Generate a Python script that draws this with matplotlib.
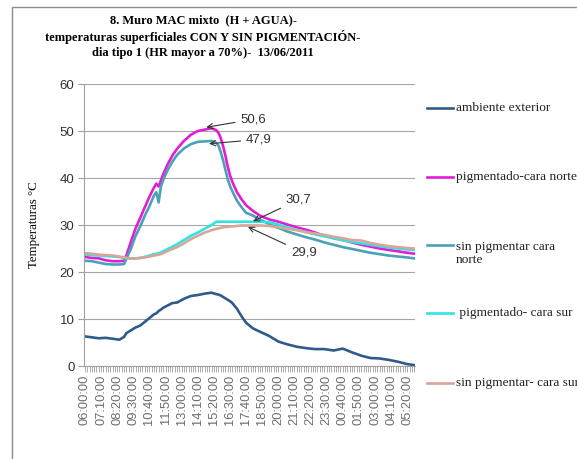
import numpy as np
import matplotlib.pyplot as plt
from matplotlib.lines import Line2D
from matplotlib.patches import Rectangle

# 10-minute steps from 06:00 (idx 0) to 05:50 next day (idx 143)
idx = [0, 3, 6, 9, 12, 15, 17, 18, 20, 22, 24, 26, 28, 30, 31, 32, 33, 34, 36, 38, 40,
       43, 46, 49, 52, 55, 57, 58, 59, 60, 61, 62, 63, 64, 66, 68, 70, 73, 76,
       80, 84, 88, 92, 96, 100, 104, 108, 112, 116, 120, 124, 128, 132, 136, 140, 143]

ambiente = [6.3, 6.1, 5.9, 6.0, 5.8, 5.6, 6.2, 7.0, 7.6, 8.2, 8.6, 9.4, 10.2, 11.0, 11.2, 11.7, 12.0, 12.4, 12.9, 13.4, 13.5,
            14.3, 14.9, 15.1, 15.4, 15.6, 15.3, 15.2, 15.0, 14.7, 14.4, 14.1, 13.8, 13.4, 12.2, 10.6, 9.2, 8.0, 7.3,
            6.4, 5.2, 4.6, 4.1, 3.8, 3.6, 3.6, 3.3, 3.7, 2.9, 2.2, 1.7, 1.6, 1.3, 0.9, 0.4, 0.2]

pig_norte = [23.2, 23.0, 22.9, 22.5, 22.3, 22.3, 22.4, 23.5, 26.5, 29.3, 31.5, 33.8, 36.0, 38.0, 38.8, 38.2, 39.5, 40.8, 43.0, 44.8, 46.2,
             47.9, 49.2, 50.0, 50.3, 50.6, 50.2, 49.6, 48.5, 46.8, 44.8, 42.5, 40.6, 39.2, 37.0, 35.5, 34.2, 33.0, 32.0,
             31.2, 30.7, 30.1, 29.5, 29.0, 28.4, 27.7, 27.2, 26.8, 26.3, 25.8, 25.4, 25.0, 24.7, 24.4, 24.1, 23.9]

sin_norte = [22.4, 22.3, 22.0, 21.7, 21.6, 21.6, 21.7, 22.8, 25.0, 27.7, 29.7, 32.0, 34.0, 36.3, 37.0, 34.8, 38.2, 39.6, 41.8, 43.5, 44.9,
             46.3, 47.2, 47.7, 47.8, 47.9, 47.5, 46.9, 45.5, 43.8, 41.8, 39.8, 38.3, 37.2, 35.2, 33.8, 32.6, 32.0, 31.2,
             30.2, 29.4, 28.6, 28.0, 27.4, 26.9, 26.3, 25.8, 25.3, 24.9, 24.5, 24.1, 23.8, 23.5, 23.3, 23.1, 22.9]

pig_sur = [23.7, 23.6, 23.5, 23.4, 23.3, 23.2, 23.0, 22.9, 22.9, 22.9, 23.0, 23.2, 23.5, 23.8, 23.9, 24.0, 24.2, 24.4, 24.9, 25.4, 25.9,
           26.8, 27.7, 28.4, 29.2, 30.0, 30.7, 30.7, 30.7, 30.7, 30.7, 30.7, 30.7, 30.7, 30.7, 30.7, 30.7, 30.7, 30.7,
           30.6, 30.1, 29.5, 29.0, 28.5, 28.0, 27.6, 27.2, 26.8, 26.4, 26.1, 25.8, 25.5, 25.2, 25.0, 24.8, 24.7]

sin_sur = [24.0, 23.9, 23.7, 23.6, 23.5, 23.3, 23.1, 23.0, 22.9, 22.9, 23.0, 23.1, 23.3, 23.5, 23.6, 23.7, 23.8, 24.0, 24.5, 24.9, 25.3,
           26.1, 27.0, 27.7, 28.4, 28.9, 29.2, 29.3, 29.4, 29.5, 29.6, 29.6, 29.7, 29.7, 29.8, 29.9, 29.9, 29.9, 29.9,
           29.8, 29.5, 29.2, 28.9, 28.5, 28.2, 27.9, 27.5, 27.2, 26.8, 26.7, 26.2, 25.8, 25.5, 25.3, 25.1, 25.0]

tick_labels = ['06:00:00', '07:10:00', '08:20:00', '09:30:00', '10:40:00', '11:50:00', '13:00:00',
               '14:10:00', '15:20:00', '16:30:00', '17:40:00', '18:50:00', '20:00:00', '21:10:00',
               '22:20:00', '23:30:00', '00:40:00', '01:50:00', '03:00:00', '04:10:00', '05:20:00']

series = [ambiente, pig_norte, sin_norte, pig_sur, sin_sur]
names = ['ambiente exterior', 'pigmentado-cara norte', 'sin pigmentar cara\nnorte',
         ' pigmentado- cara sur', 'sin pigmentar- cara sur']
colors = ['#2F5B8C', '#E31CD6', '#4BA2B6', '#30E4E4', '#D8A597']

# annotations: text, point, text position
notes = [('50,6', (52.7, 50.8), (67.6, 52.5)),
         ('47,9', (53.9, 47.3), (70.0, 48.2)),
         ('30,7', (73.0, 30.8), (87.3, 35.4)),
         ('29,9', (70.8, 29.6), (89.5, 24.1))]

fig = plt.figure(figsize=(5.77, 4.59), dpi=100)
fig.add_artist(Rectangle((12/577, -0.01), 1.0, 1 - 7/459 + 0.01, transform=fig.transFigure,
                         fill=False, edgecolor='#8C8C8C', lw=1.0))
ax = fig.add_axes([0.146, 0.2026, 0.573, 0.6143])

for s, c in zip(series, colors):
    ax.plot(idx, s, color=c, lw=1.9, solid_joinstyle='round')

ax.set_ylim(0, 60)
ax.set_xlim(-0.3, 143.3)
ax.set_yticks(range(0, 61, 10))
ax.yaxis.grid(True, color='#A6A6A6', lw=0.8)
ax.set_axisbelow(True)
ax.set_xticks(np.arange(0, 141, 7))
ax.set_xticklabels(tick_labels, rotation=90, fontsize=9.3, color='#6E6E6E', family='Liberation Sans')
ax.set_xticks(np.arange(0, 144), minor=True)
ax.tick_params(axis='x', which='both', length=4, color='#A0A0A0', width=0.6, pad=2)
ax.tick_params(axis='y', length=4, color='#A0A0A0', labelsize=9.5, labelcolor='#333333', pad=3)
for t in ax.get_yticklabels():
    t.set_family('Liberation Sans')
for sp in ['top', 'right']:
    ax.spines[sp].set_visible(False)
ax.spines['left'].set_color('#A0A0A0')
ax.spines['bottom'].set_color('#A0A0A0')
ax.set_ylabel('Temperaturas °C', family='Liberation Serif', fontsize=9.3, labelpad=14)

for txt, xy, xyt in notes:
    ax.annotate(txt, xy=xy, xytext=xyt, textcoords='data', fontsize=9.5, color='#333333',
                family='Liberation Sans', va='center', ha='left',
                arrowprops=dict(arrowstyle='->', color='#333333', lw=0.8, shrinkA=2, shrinkB=0))

fig.text(0.352, 0.968, '8. Muro MAC mixto  (H + AGUA)-\ntemperaturas superficiales CON Y SIN PIGMENTACIÓN-\ndia tipo 1 (HR mayor a 70%)-  13/06/2011',
         ha='center', va='top', family='Liberation Serif', fontweight='bold', fontsize=9, linespacing=1.3)

# legend drawn by hand
leg_y = [108, 177, 245, 313, 383]
for y, n, c in zip(leg_y, names, colors):
    fy = 1 - y / 459
    fig.add_artist(Line2D([427/577, 453/577], [fy, fy], color=c, lw=1.9, transform=fig.transFigure))
    ty = fy if '\n' not in n else 1 - (y + 8.5) / 459
    fig.text(456/577, ty, n, family='Liberation Serif', fontsize=9.6, va='center',
             ha='left', color='#222222', linespacing=1.2)

fig.savefig('out.png', dpi=100)
